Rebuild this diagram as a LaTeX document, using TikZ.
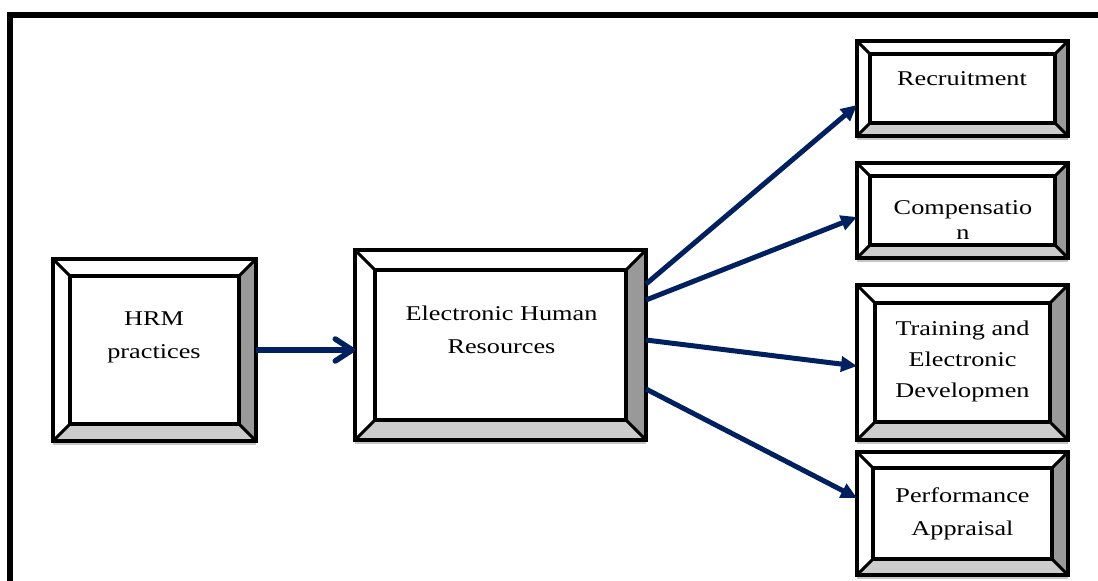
\documentclass[tikz,border=0pt]{standalone}
\usepackage{fontspec}
\setmainfont{Liberation Serif}[FakeStretch=1.25]
\usetikzlibrary{arrows.meta,calc}
\definecolor{navy}{RGB}{0,32,96}
\definecolor{bevdark}{RGB}{153,153,153}
\definecolor{bevlight}{RGB}{204,204,204}
\tikzset{
  boxnode/.style={draw=none,inner sep=0pt,outer sep=0pt,rectangle},
  edge/.style={line width=3.5pt,line join=miter},
  diag/.style={line width=3pt},
  lbl/.style={inner sep=0pt,align=center,font=\fontsize{21}{33}\selectfont},
  arr/.style={navy,line width=5pt,-{Triangle[length=16pt,width=15pt]}},
  chev/.style={navy,line width=5.5pt,-{Straight Barb[length=17pt,width=22pt,round]}},
}
\newcommand\bevelize[2]{%
  \coordinate (#1a) at (#1.north west);
  \coordinate (#1b) at (#1.north east);
  \coordinate (#1c) at (#1.south east);
  \coordinate (#1d) at (#1.south west);
  \coordinate (#1A) at ([shift={(#2pt,-#2pt)}]#1.north west);
  \coordinate (#1B) at ([shift={(-#2pt,-#2pt)}]#1.north east);
  \coordinate (#1C) at ([shift={(-#2pt,#2pt)}]#1.south east);
  \coordinate (#1D) at ([shift={(#2pt,#2pt)}]#1.south west);
  \draw[gray!45,line width=1.2pt] ([yshift=-3pt]#1.south west) -- ([yshift=-3pt]#1.south east);
  \fill[white] (#1a)--(#1b)--(#1B)--(#1A)--cycle;
  \fill[white] (#1a)--(#1A)--(#1D)--(#1d)--cycle;
  \fill[bevdark] (#1b)--(#1c)--(#1C)--(#1B)--cycle;
  \fill[bevlight] (#1d)--(#1D)--(#1C)--(#1c)--cycle;
  \draw[diag] (#1a)--(#1A) (#1b)--(#1B) (#1c)--(#1C) (#1d)--(#1D);
  \draw[edge] (#1a) rectangle (#1c);
  \draw[edge] (#1A) rectangle (#1C);
}
\begin{document}
\begin{tikzpicture}[x=1pt,y=-1pt]
\useasboundingbox (0,0) rectangle (1098,581);
% frame
\draw[line width=6pt] (10,581) -- (10,15) -- (1098,15);
% boxes
\node[boxnode,minimum width=203pt,minimum height=182pt] (hrm) at (154.5,350) {};
\node[boxnode,minimum width=291pt,minimum height=190pt] (ehr) at (500.5,345) {};
\node[boxnode,minimum width=211pt,minimum height=95pt] (rec) at (962.5,88.5) {};
\node[boxnode,minimum width=211pt,minimum height=95pt] (comp) at (962.5,210.5) {};
\node[boxnode,minimum width=211pt,minimum height=155pt] (trn) at (962.5,362.5) {};
\node[boxnode,minimum width=211pt,minimum height=123pt] (perf) at (962.5,513.5) {};
\bevelize{hrm}{17}
\bevelize{ehr}{20}
\bevelize{rec}{13}
\bevelize{comp}{13}
\bevelize{trn}{18}
\bevelize{perf}{16}
% labels
\node[lbl] (hrmt) at (154,337.5) {HRM\\practices};
\node[lbl] (ehrt) at (501.5,330) {Electronic Human\\Resources};
\node[lbl] (rect) at (962,79) {Recruitment};
\begin{scope}
\clip (870,170) rectangle (1060,238.5);
\node[lbl,font=\fontsize{21}{25}\selectfont] (compt) at (963,220.5) {Compensatio\\n};
\end{scope}
\node[lbl,font=\fontsize{21}{31}\selectfont] (trnt) at (962.5,361) {Training and\\Electronic\\Developmen};
\node[lbl] (perft) at (962.5,513.5) {Performance\\Appraisal};
% connectors
\draw[chev] (hrm.east) -- (hrm.east -| ehr.west);
\draw[arr] ([yshift=-34pt]ehr.north east) -- ([yshift=-16.5pt]rec.west);
\draw[arr] ([yshift=-50pt]ehr.north east) -- ([yshift=-6.5pt]comp.west);
\draw[arr] ([yshift=-90pt]ehr.north east) -- ([yshift=-3.5pt]trn.west);
\draw[arr] ([yshift=-139pt]ehr.north east) -- ([yshift=15.5pt]perf.west);
\end{tikzpicture}
\end{document}
